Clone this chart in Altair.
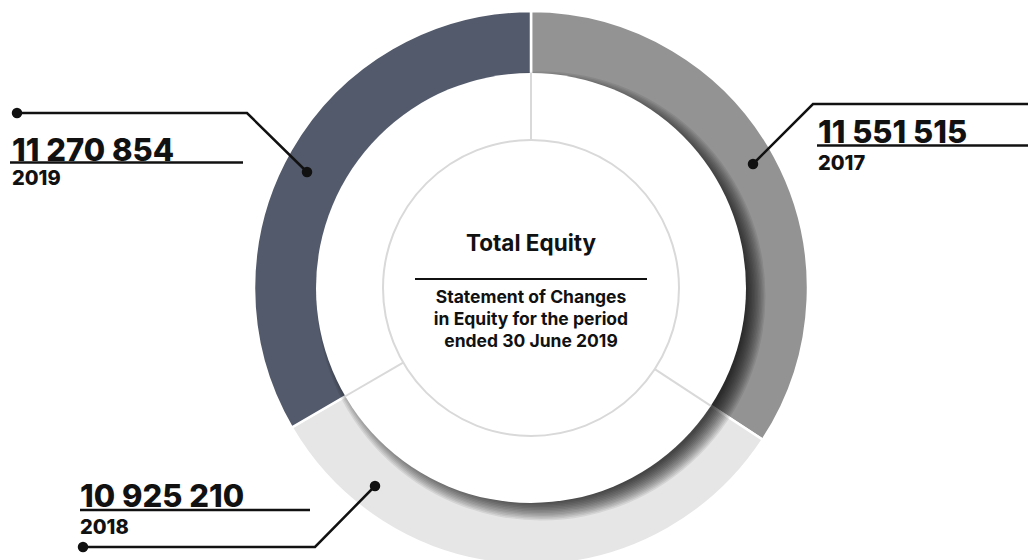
import math
import altair as alt
import pandas as pd

# ---------------- data ----------------
years = ["2017", "2018", "2019"]
values = [11551515, 10925210, 11270854]
value_labels = ["11 551 515", "10 925 210", "11 270 854"]
seg_colors = ["#939393", "#e6e6e6", "#535a6b"]
center_title = "Total Equity"
center_sub = ["Statement of Changes", "in Equity for the period", "ended 30 June 2019"]

# ---------------- layout (pixels in view) ----------------
W, H = 1020, 552
CX, CY = 523, 280
R_OUT, R_RING_IN, R_DISC, R_CIRC = 277, 205, 215, 148
FONT = "Inter"
INK = "#111111"

# leader line paths per year: list of (x, y)
leader_paths = {
    "2017": [(745, 156), (805, 96), (1030, 96)],
    "2018": [(367, 478), (307, 539), (75, 539)],
    "2019": [(299, 164), (239, 105), (9, 105)],
}
dot_points = {"2017": [(745, 156)], "2018": [(367, 478), (75, 539)], "2019": [(299, 164), (9, 105)]}
num_pos = {"2017": (810, 135), "2018": (72, 499), "2019": (4, 153)}
year_pos = {"2017": (810, 162), "2018": (72, 526), "2019": (4, 177)}
underline = {"2017": (809, 1030, 137.5), "2018": (72, 302, 502), "2019": (2, 235, 154.5)}

xs = alt.Scale(domain=[0, W], range=[0, W], nice=False, zero=False)
ys = alt.Scale(domain=[0, H], range=[0, H], nice=False, zero=False)


def X(f="x"):
    return alt.X(f"{f}:Q", scale=xs, axis=None)


def Y(f="y"):
    return alt.Y(f"{f}:Q", scale=ys, axis=None)


# ring
ring_df = pd.DataFrame({"year": years, "value": values, "ord": [0, 1, 2]})
ring = alt.Chart(ring_df).mark_arc(
    stroke="white", strokeWidth=2.5, radius=R_OUT, radius2=R_RING_IN
).encode(
    theta=alt.Theta("value:Q", stack=True),
    order=alt.Order("ord:Q"),
    color=alt.Color("year:N", scale=alt.Scale(domain=years, range=seg_colors), legend=None),
    x=alt.value(CX),
    y=alt.value(CY),
)

# shadow of inner disc (stacked translucent circles)
sh_r = [205 + 1.5 * i for i in range(14)]
shadow_df = pd.DataFrame({"x": [CX + 10] * len(sh_r), "y": [CY + 8] * len(sh_r),
                          "s": [4 * r * r for r in sh_r]})
shadow = alt.Chart(shadow_df).mark_circle(color="black", opacity=0.08).encode(
    x=X(), y=Y(), size=alt.Size("s:Q", scale=None, legend=None)
)

disc_df = pd.DataFrame({"x": [CX], "y": [CY], "s": [4 * R_DISC * R_DISC]})
disc = alt.Chart(disc_df).mark_circle(color="white", opacity=1).encode(
    x=X(), y=Y(), size=alt.Size("s:Q", scale=None, legend=None)
)

circ_df = pd.DataFrame({"x": [CX], "y": [CY], "s": [4 * R_CIRC * R_CIRC]})
circ = alt.Chart(circ_df).mark_point(
    shape="circle", filled=False, stroke="#d9d9d9", strokeWidth=2, opacity=1
).encode(x=X(), y=Y(), size=alt.Size("s:Q", scale=None, legend=None))

# separators at segment boundaries
total = sum(values)
bounds = [0.0]
acc = 0
for v in values[:-1]:
    acc += v
    bounds.append(acc / total * 2 * math.pi)
sep_df = pd.DataFrame({
    "x": [CX + R_CIRC * math.sin(a) for a in bounds],
    "y": [CY - R_CIRC * math.cos(a) for a in bounds],
    "x2": [CX + R_DISC * math.sin(a) for a in bounds],
    "y2": [CY - R_DISC * math.cos(a) for a in bounds],
})
seps = alt.Chart(sep_df).mark_rule(color="#d9d9d9", strokeWidth=2).encode(
    x=X(), y=Y(), x2="x2:Q", y2="y2:Q"
)

# leader lines
lrows = []
for yr, pts in leader_paths.items():
    for i, (px, py) in enumerate(pts):
        lrows.append({"year": yr, "i": i, "x": px, "y": py})
leader = alt.Chart(pd.DataFrame(lrows)).mark_line(color=INK, strokeWidth=2.5).encode(
    x=X(), y=Y(), detail="year:N", order="i:Q"
)
drows = [{"year": yr, "x": px, "y": py} for yr, pts in dot_points.items() for (px, py) in pts]
dots = alt.Chart(pd.DataFrame(drows)).mark_circle(color=INK, opacity=1, size=110).encode(x=X(), y=Y())

urows = [{"x": a, "x2": b, "y": c} for (a, b, c) in underline.values()]
ulines = alt.Chart(pd.DataFrame(urows)).mark_rule(color=INK, strokeWidth=2.3).encode(
    x=X(), x2="x2:Q", y=Y()
)

num_df = pd.DataFrame({
    "t": value_labels,
    "x": [num_pos[y][0] for y in years],
    "y": [num_pos[y][1] for y in years],
})
nums = alt.Chart(num_df).mark_text(
    font=FONT, fontWeight=800, fontSize=31, align="left", baseline="alphabetic", color=INK
).encode(x=X(), y=Y(), text="t:N")

yr_df = pd.DataFrame({
    "t": years,
    "x": [year_pos[y][0] for y in years],
    "y": [year_pos[y][1] for y in years],
})
yrs = alt.Chart(yr_df).mark_text(
    font=FONT, fontWeight=800, fontSize=20, align="left", baseline="alphabetic", color=INK
).encode(x=X(), y=Y(), text="t:N")

title_df = pd.DataFrame({"t": [center_title], "x": [CX], "y": [243]})
title = alt.Chart(title_df).mark_text(
    font=FONT, fontWeight="bold", fontSize=22.5, align="center",
    baseline="alphabetic", color=INK
).encode(x=X(), y=Y(), text="t:N")

crule_df = pd.DataFrame({"x": [407], "x2": [639], "y": [271]})
crule = alt.Chart(crule_df).mark_rule(color=INK, strokeWidth=2).encode(x=X(), x2="x2:Q", y=Y())

sub_df = pd.DataFrame({"t": center_sub, "x": [CX] * 3, "y": [295, 317, 339]})
sub = alt.Chart(sub_df).mark_text(
    font=FONT, fontWeight="bold", fontSize=17.5, align="center",
    baseline="alphabetic", color=INK
).encode(x=X(), y=Y(), text="t:N")

chart = alt.layer(
    ring, shadow, disc, circ, seps, leader, dots, ulines, nums, yrs, title, crule, sub
).properties(
    width=W, height=H, padding=0, autosize=alt.AutoSizeParams(type="none"), background="white"
).configure_view(strokeWidth=0)

chart.save("out.html", embed_options={"renderer": "svg", "actions": False})
